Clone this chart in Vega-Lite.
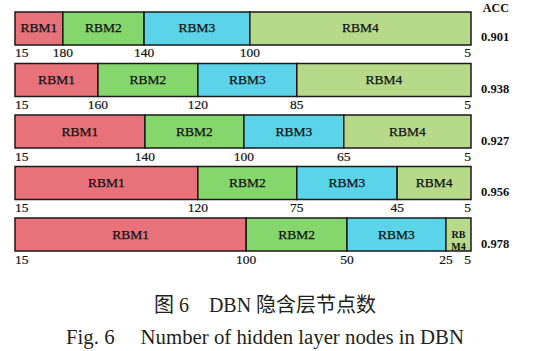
{
  "$schema": "https://vega.github.io/schema/vega-lite/v6.json",
  "width": 456,
  "height": 239,
  "autosize": {"type": "none"},
  "padding": {"left": 15, "top": 12, "right": 66, "bottom": 100},
  "background": "white",
  "config": {"view": {"stroke": null}, "font": "Liberation Serif", "text": {"font": "Liberation Serif"}},
  "title": {
    "text": "图 6\u2003DBN 隐含层节点数",
    "subtitle": "Fig. 6\u2003 Number of hidden layer nodes in DBN",
    "orient": "bottom",
    "anchor": "middle",
    "offset": 30,
    "dx": 22,
    "font": "Liberation Serif, Noto Sans CJK SC",
    "fontSize": 20,
    "fontWeight": "normal",
    "color": "#231f20",
    "subtitleFont": "Liberation Serif",
    "subtitleFontSize": 20.8,
    "subtitleColor": "#231f20",
    "subtitlePadding": 12
  },
  "datasets": {
    "segments": [
      {"row": 1, "rbm": "RBM1", "x0": 0, "x1": 10.5},
      {"row": 1, "rbm": "RBM2", "x0": 10.5, "x1": 28.3},
      {"row": 1, "rbm": "RBM3", "x0": 28.3, "x1": 51.5},
      {"row": 1, "rbm": "RBM4", "x0": 51.5, "x1": 100},
      {"row": 2, "rbm": "RBM1", "x0": 0, "x1": 18.2},
      {"row": 2, "rbm": "RBM2", "x0": 18.2, "x1": 40.1},
      {"row": 2, "rbm": "RBM3", "x0": 40.1, "x1": 61.8},
      {"row": 2, "rbm": "RBM4", "x0": 61.8, "x1": 100},
      {"row": 3, "rbm": "RBM1", "x0": 0, "x1": 28.5},
      {"row": 3, "rbm": "RBM2", "x0": 28.5, "x1": 50.2},
      {"row": 3, "rbm": "RBM3", "x0": 50.2, "x1": 72.1},
      {"row": 3, "rbm": "RBM4", "x0": 72.1, "x1": 100},
      {"row": 4, "rbm": "RBM1", "x0": 0, "x1": 40.1},
      {"row": 4, "rbm": "RBM2", "x0": 40.1, "x1": 61.8},
      {"row": 4, "rbm": "RBM3", "x0": 61.8, "x1": 83.8},
      {"row": 4, "rbm": "RBM4", "x0": 83.8, "x1": 100},
      {"row": 5, "rbm": "RBM1", "x0": 0, "x1": 50.7},
      {"row": 5, "rbm": "RBM2", "x0": 50.7, "x1": 72.8},
      {"row": 5, "rbm": "RBM3", "x0": 72.8, "x1": 94.5},
      {"row": 5, "rbm": "RBM4", "x0": 94.5, "x1": 100}
    ],
    "bounds": [
      {"row": 1, "x": 0, "label": "15"},
      {"row": 1, "x": 10.5, "label": "180"},
      {"row": 1, "x": 28.3, "label": "140"},
      {"row": 1, "x": 51.5, "label": "100"},
      {"row": 1, "x": 100, "label": "5"},
      {"row": 2, "x": 0, "label": "15"},
      {"row": 2, "x": 18.2, "label": "160"},
      {"row": 2, "x": 40.1, "label": "120"},
      {"row": 2, "x": 61.8, "label": "85"},
      {"row": 2, "x": 100, "label": "5"},
      {"row": 3, "x": 0, "label": "15"},
      {"row": 3, "x": 28.5, "label": "140"},
      {"row": 3, "x": 50.2, "label": "100"},
      {"row": 3, "x": 72.1, "label": "65"},
      {"row": 3, "x": 100, "label": "5"},
      {"row": 4, "x": 0, "label": "15"},
      {"row": 4, "x": 40.1, "label": "120"},
      {"row": 4, "x": 61.8, "label": "75"},
      {"row": 4, "x": 83.8, "label": "45"},
      {"row": 4, "x": 100, "label": "5"},
      {"row": 5, "x": 0, "label": "15"},
      {"row": 5, "x": 50.7, "label": "100"},
      {"row": 5, "x": 72.8, "label": "50"},
      {"row": 5, "x": 94.5, "label": "25"},
      {"row": 5, "x": 100, "label": "5"}
    ],
    "acc": [
      {"row": 1, "acc": "0.901"},
      {"row": 2, "acc": "0.938"},
      {"row": 3, "acc": "0.927"},
      {"row": 4, "acc": "0.956"},
      {"row": 5, "acc": "0.978"}
    ]
  },
  "layer": [
    {
      "data": {"name": "segments"},
      "mark": {"type": "bar", "stroke": "#1a1a1a", "strokeWidth": 1.5, "cornerRadius": 0},
      "encoding": {
        "x": {"field": "x0", "type": "quantitative", "scale": {"domain": [0, 100], "nice": false, "zero": false}, "axis": null},
        "x2": {"field": "x1"},
        "y": {"field": "row", "type": "ordinal", "scale": {"paddingInner": 0.36, "paddingOuter": 0}, "axis": null},
        "color": {
          "field": "rbm", "type": "nominal", "legend": null,
          "scale": {"domain": ["RBM1", "RBM2", "RBM3", "RBM4"], "range": ["#e8727a", "#86d66e", "#5bd3e8", "#b6da8a"]}
        }
      }
    },
    {
      "data": {"name": "segments"},
      "transform": [
        {"filter": "datum.x1 - datum.x0 > 10"},
        {"fold": ["x0", "x1"], "as": ["edge", "pos"]}
      ],
      "mark": {"type": "text", "font": "Liberation Serif", "fontSize": 13.5, "baseline": "middle", "align": "center", "color": "#111111", "stroke": "#111111", "strokeWidth": 0.25},
      "encoding": {
        "x": {"field": "pos", "type": "quantitative", "aggregate": "mean"},
        "y": {"field": "row", "type": "ordinal"},
        "text": {"field": "rbm", "type": "nominal"}
      }
    },
    {
      "data": {"name": "segments"},
      "transform": [
        {"filter": "datum.x1 - datum.x0 <= 10"},
        {"fold": ["x0", "x1"], "as": ["edge", "pos"]}
      ],
      "mark": {"type": "text", "font": "Liberation Serif", "fontSize": 10, "fontWeight": "bold", "baseline": "middle", "align": "center", "color": "#111111", "lineBreak": "\n", "lineHeight": 12},
      "encoding": {
        "x": {"field": "pos", "type": "quantitative", "aggregate": "mean"},
        "y": {"field": "row", "type": "ordinal"},
        "text": {"value": "RB\nM4"}
      }
    },
    {
      "data": {"name": "bounds"},
      "transform": [{"filter": "datum.x == 0"}],
      "mark": {"type": "text", "font": "Liberation Serif", "fontSize": 13.5, "align": "left", "baseline": "middle", "yOffset": 25, "color": "#111111", "stroke": "#111111", "strokeWidth": 0.2},
      "encoding": {
        "x": {"field": "x", "type": "quantitative"},
        "y": {"field": "row", "type": "ordinal"},
        "text": {"field": "label"}
      }
    },
    {
      "data": {"name": "bounds"},
      "transform": [{"filter": "datum.x > 0 && datum.x < 100"}],
      "mark": {"type": "text", "font": "Liberation Serif", "fontSize": 13.5, "align": "center", "baseline": "middle", "yOffset": 25, "color": "#111111", "stroke": "#111111", "strokeWidth": 0.2},
      "encoding": {
        "x": {"field": "x", "type": "quantitative"},
        "y": {"field": "row", "type": "ordinal"},
        "text": {"field": "label"}
      }
    },
    {
      "data": {"name": "bounds"},
      "transform": [{"filter": "datum.x == 100"}],
      "mark": {"type": "text", "font": "Liberation Serif", "fontSize": 13.5, "align": "right", "baseline": "middle", "yOffset": 25, "color": "#111111", "stroke": "#111111", "strokeWidth": 0.2},
      "encoding": {
        "x": {"field": "x", "type": "quantitative"},
        "y": {"field": "row", "type": "ordinal"},
        "text": {"field": "label"}
      }
    },
    {
      "data": {"name": "acc"},
      "mark": {"type": "text", "font": "Liberation Serif", "fontSize": 12.5, "fontWeight": "bold", "align": "left", "baseline": "middle", "yOffset": 9, "color": "#111111"},
      "encoding": {
        "x": {"datum": 102.2, "type": "quantitative"},
        "y": {"field": "row", "type": "ordinal"},
        "text": {"field": "acc"}
      }
    },
    {
      "data": {"values": [{"row": 1, "head": "ACC"}]},
      "mark": {"type": "text", "font": "Liberation Serif", "fontSize": 12, "fontWeight": "bold", "align": "left", "baseline": "middle", "yOffset": -20, "color": "#111111"},
      "encoding": {
        "x": {"datum": 102.6, "type": "quantitative"},
        "y": {"field": "row", "type": "ordinal"},
        "text": {"field": "head"}
      }
    }
  ]
}
